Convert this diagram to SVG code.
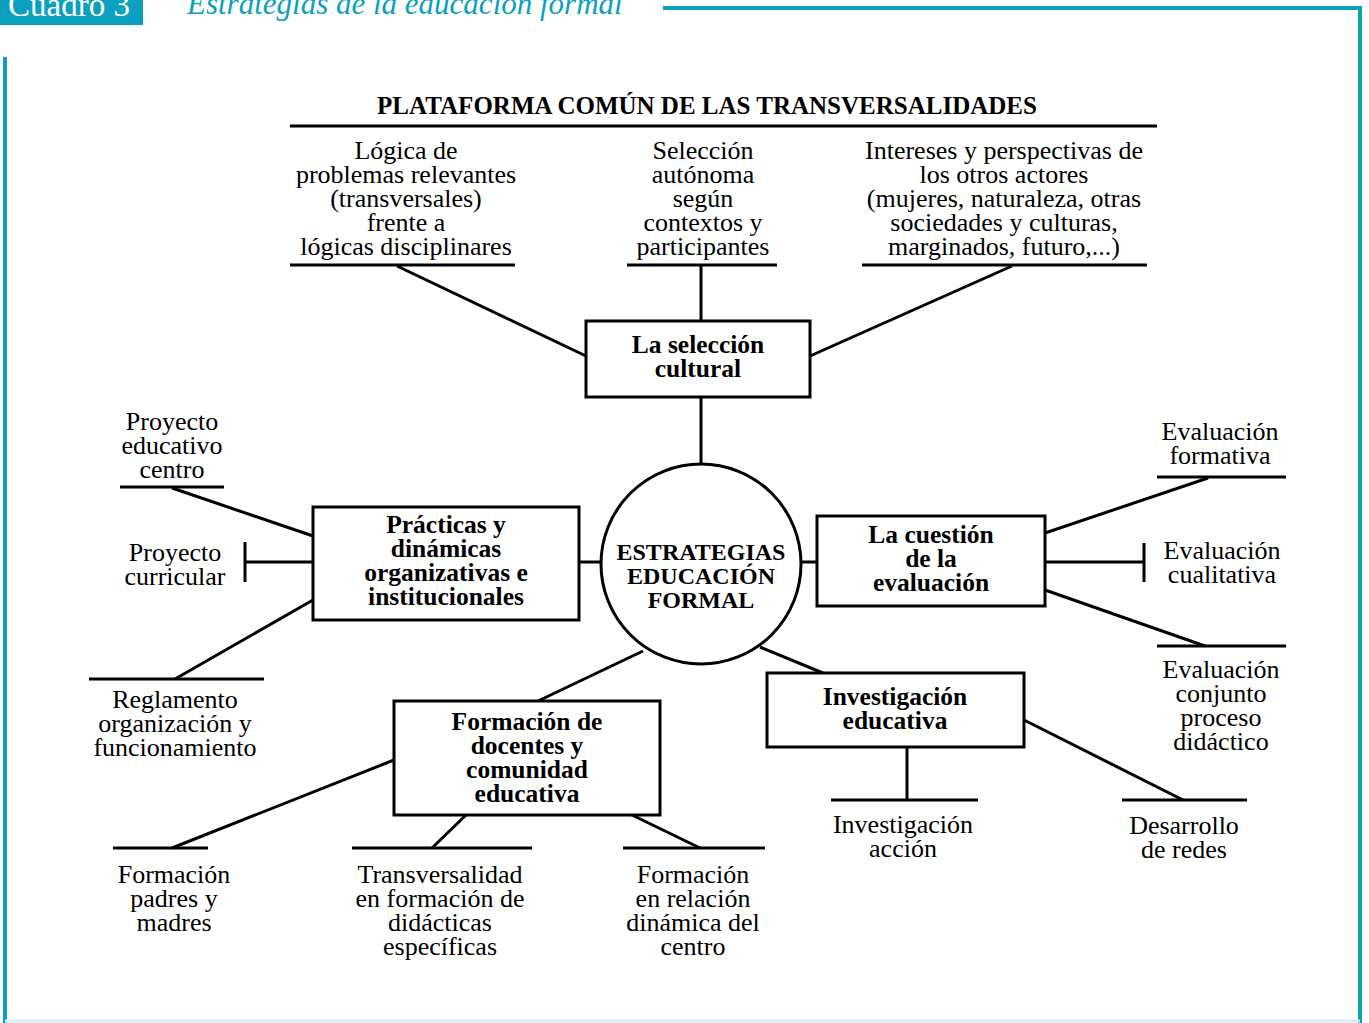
<svg xmlns="http://www.w3.org/2000/svg" width="1369" height="1023" viewBox="0 0 1369 1023">
<style>
text{font-family:"Liberation Serif","Times New Roman",serif;fill:#000}
.t{font-size:26px;text-anchor:middle}
.b{font-size:25.5px;font-weight:bold;text-anchor:middle}
.c{font-size:24px;font-weight:bold;text-anchor:middle}
.box{fill:#fff;stroke:#000;stroke-width:3}
.ln{stroke:#000;stroke-width:3;fill:none}
.frame{stroke:#0AA0BE;stroke-width:4;fill:none}
</style>
<rect width="1369" height="1023" fill="#fff"/>
<g id="frame">
<rect x="0" y="0" width="143" height="25" fill="#0AA0BE"/>
<text x="8" y="16" style="font-size:33px;fill:#fff">Cuadro 3</text>
<text x="187" y="14" style="font-size:31px;font-style:italic;fill:#0AA0BE">Estrategias de la educación formal</text>
<path class="frame" d="M663 8H1360V1023"/>
<path class="frame" d="M5 57V1023"/>
<path d="M5 1021H1360" stroke="#D6F0F5" stroke-width="3"/>
</g>
<g id="connectors" class="ln">
<path d="M397 266L586 356"/>
<path d="M701 266V321"/>
<path d="M1012 266L810 356"/>
<path d="M701 397V464"/>
<path d="M579 562H601"/>
<path d="M801 562H817"/>
<path d="M172 488L313 536"/>
<path d="M245 562H313"/>
<path d="M175 679L313 600"/>
<path d="M1045 533L1208 478"/>
<path d="M1045 562H1144"/>
<path d="M1045 590L1205 646"/>
<path d="M643 651L538 701"/>
<path d="M760 647L823 673"/>
<path d="M394 760L172 848"/>
<path d="M466 815L432 848"/>
<path d="M632 815L700 848"/>
<path d="M907 747V800"/>
<path d="M1024 720L1183 800"/>
</g>
<g id="plataforma">
<text x="707" y="114" style="font-size:25px;font-weight:bold;text-anchor:middle">PLATAFORMA COMÚN DE LAS TRANSVERSALIDADES</text>
<path class="ln" d="M290 126H1157"/>
</g>
<g id="logica">
<text class="t" x="406" y="159">Lógica de<tspan x="406" dy="24">problemas relevantes</tspan><tspan x="406" dy="24">(transversales)</tspan><tspan x="406" dy="24">frente a</tspan><tspan x="406" dy="24">lógicas disciplinares</tspan></text>
<path class="ln" d="M290 265H515"/>
</g>
<g id="seleccion-autonoma">
<text class="t" x="703" y="159">Selección<tspan x="703" dy="24">autónoma</tspan><tspan x="703" dy="24">según</tspan><tspan x="703" dy="24">contextos y</tspan><tspan x="703" dy="24">participantes</tspan></text>
<path class="ln" d="M627 265H777"/>
</g>
<g id="intereses">
<text class="t" x="1004" y="159">Intereses y perspectivas de<tspan x="1004" dy="24">los otros actores</tspan><tspan x="1004" dy="24">(mujeres, naturaleza, otras</tspan><tspan x="1004" dy="24">sociedades y culturas,</tspan><tspan x="1004" dy="24">marginados, futuro,...)</tspan></text>
<path class="ln" d="M862 265H1147"/>
</g>
<g id="seleccion-cultural">
<rect class="box" x="586" y="321" width="224" height="76"/>
<text class="b" x="698" y="353">La selección<tspan x="698" dy="24">cultural</tspan></text>
</g>
<g id="estrategias">
<circle class="box" cx="701" cy="564" r="100"/>
<text class="c" x="701" y="560">ESTRATEGIAS<tspan x="701" dy="24">EDUCACIÓN</tspan><tspan x="701" dy="24">FORMAL</tspan></text>
</g>
<g id="practicas">
<rect class="box" x="313" y="507" width="266" height="113"/>
<text class="b" x="446" y="533">Prácticas y<tspan x="446" dy="24">dinámicas</tspan><tspan x="446" dy="24">organizativas e</tspan><tspan x="446" dy="24">institucionales</tspan></text>
</g>
<g id="proyecto-educativo">
<text class="t" x="172" y="430">Proyecto<tspan x="172" dy="24">educativo</tspan><tspan x="172" dy="24">centro</tspan></text>
<path class="ln" d="M120 487H224"/>
</g>
<g id="proyecto-curricular">
<text class="t" x="175" y="561">Proyecto<tspan x="175" dy="24">curricular</tspan></text>
<path class="ln" d="M245 542V582"/>
</g>
<g id="reglamento">
<path class="ln" d="M89 679H264"/>
<text class="t" x="175" y="708">Reglamento<tspan x="175" dy="24">organización y</tspan><tspan x="175" dy="24">funcionamiento</tspan></text>
</g>
<g id="evaluacion">
<rect class="box" x="817" y="516" width="228" height="90"/>
<text class="b" x="931" y="543">La cuestión<tspan x="931" dy="24">de la</tspan><tspan x="931" dy="24">evaluación</tspan></text>
</g>
<g id="eval-formativa">
<text class="t" x="1220" y="440">Evaluación<tspan x="1220" dy="24">formativa</tspan></text>
<path class="ln" d="M1157 477H1286"/>
</g>
<g id="eval-cualitativa">
<path class="ln" d="M1144 543V582"/>
<text class="t" x="1222" y="559">Evaluación<tspan x="1222" dy="24">cualitativa</tspan></text>
</g>
<g id="eval-conjunto">
<path class="ln" d="M1157 646H1286"/>
<text class="t" x="1221" y="678">Evaluación<tspan x="1221" dy="24">conjunto</tspan><tspan x="1221" dy="24">proceso</tspan><tspan x="1221" dy="24">didáctico</tspan></text>
</g>
<g id="formacion-docentes">
<rect class="box" x="394" y="701" width="266" height="114"/>
<text class="b" x="527" y="730">Formación de<tspan x="527" dy="24">docentes y</tspan><tspan x="527" dy="24">comunidad</tspan><tspan x="527" dy="24">educativa</tspan></text>
</g>
<g id="formacion-padres">
<path class="ln" d="M113 848H208"/>
<text class="t" x="174" y="883">Formación<tspan x="174" dy="24">padres y</tspan><tspan x="174" dy="24">madres</tspan></text>
</g>
<g id="transversalidad">
<path class="ln" d="M352 848H532"/>
<text class="t" x="440" y="883">Transversalidad<tspan x="440" dy="24">en formación de</tspan><tspan x="440" dy="24">didácticas</tspan><tspan x="440" dy="24">específicas</tspan></text>
</g>
<g id="formacion-relacion">
<path class="ln" d="M623 848H765"/>
<text class="t" x="693" y="883">Formación<tspan x="693" dy="24">en relación</tspan><tspan x="693" dy="24">dinámica del</tspan><tspan x="693" dy="24">centro</tspan></text>
</g>
<g id="investigacion">
<rect class="box" x="767" y="673" width="257" height="74"/>
<text class="b" x="895" y="705">Investigación<tspan x="895" dy="24">educativa</tspan></text>
</g>
<g id="investigacion-accion">
<path class="ln" d="M831 800H978"/>
<text class="t" x="903" y="833">Investigación<tspan x="903" dy="24">acción</tspan></text>
</g>
<g id="desarrollo-redes">
<path class="ln" d="M1122 800H1247"/>
<text class="t" x="1184" y="834">Desarrollo<tspan x="1184" dy="24">de redes</tspan></text>
</g>
</svg>
